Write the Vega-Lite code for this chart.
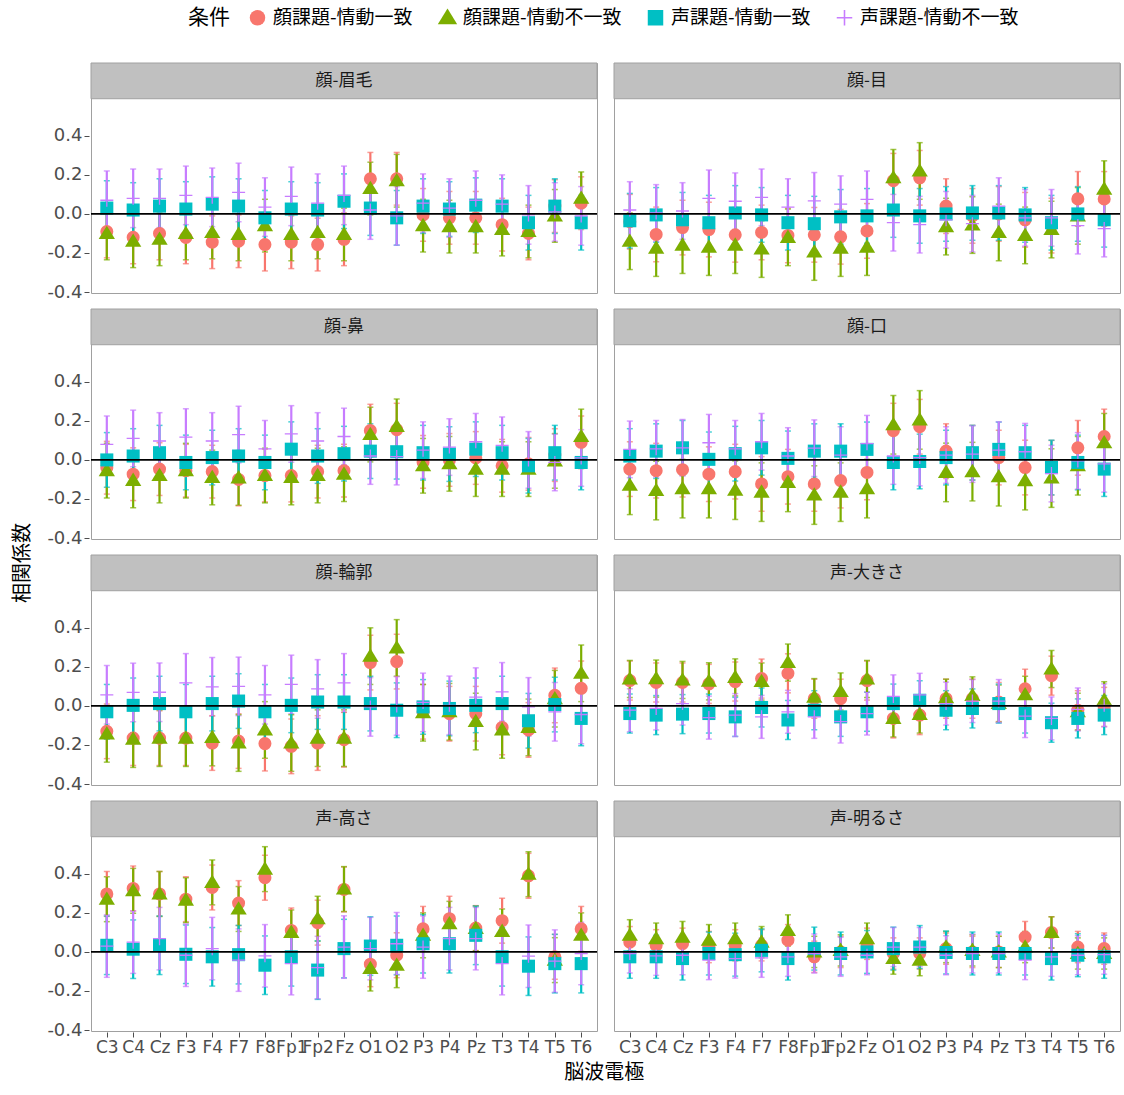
{
"$schema": "https://vega.github.io/schema/vega-lite/v6.json",
"background": "white",
"padding": {"left": 0, "top": 8, "right": 2, "bottom": 0},
"datasets": {
"grp": [
{"g":"1a","p":"顔-眉毛","c":"顔課題-情動一致","s":0.135},{"g":"1b","p":"顔-眉毛","c":"顔課題-情動不一致","s":0.135},{"g":"1c","p":"顔-眉毛","c":"声課題-情動一致","s":0.14},{"g":"1d","p":"顔-眉毛","c":"声課題-情動不一致","s":0.15},
{"g":"2a","p":"顔-目","c":"顔課題-情動一致","s":0.14},{"g":"2b","p":"顔-目","c":"顔課題-情動不一致","s":0.145},{"g":"2c","p":"顔-目","c":"声課題-情動一致","s":0.14},{"g":"2d","p":"顔-目","c":"声課題-情動不一致","s":0.145},
{"g":"3a","p":"顔-鼻","c":"顔課題-情動一致","s":0.135},{"g":"3b","p":"顔-鼻","c":"顔課題-情動不一致","s":0.14},{"g":"3c","p":"顔-鼻","c":"声課題-情動一致","s":0.14},{"g":"3d","p":"顔-鼻","c":"声課題-情動不一致","s":0.145},
{"g":"4a","p":"顔-口","c":"顔課題-情動一致","s":0.14},{"g":"4b","p":"顔-口","c":"顔課題-情動不一致","s":0.15},{"g":"4c","p":"顔-口","c":"声課題-情動一致","s":0.14},{"g":"4d","p":"顔-口","c":"声課題-情動不一致","s":0.145},
{"g":"5a","p":"顔-輪郭","c":"顔課題-情動一致","s":0.14},{"g":"5b","p":"顔-輪郭","c":"顔課題-情動不一致","s":0.145},{"g":"5c","p":"顔-輪郭","c":"声課題-情動一致","s":0.14},{"g":"5d","p":"顔-輪郭","c":"声課題-情動不一致","s":0.15},
{"g":"6a","p":"声-大きさ","c":"顔課題-情動一致","s":0.1},{"g":"6b","p":"声-大きさ","c":"顔課題-情動不一致","s":0.095},{"g":"6c","p":"声-大きさ","c":"声課題-情動一致","s":0.1},{"g":"6d","p":"声-大きさ","c":"声課題-情動不一致","s":0.11},
{"g":"7a","p":"声-高さ","c":"顔課題-情動一致","s":0.115},{"g":"7b","p":"声-高さ","c":"顔課題-情動不一致","s":0.115},{"g":"7c","p":"声-高さ","c":"声課題-情動一致","s":0.15},{"g":"7d","p":"声-高さ","c":"声課題-情動不一致","s":0.16},
{"g":"8a","p":"声-明るさ","c":"顔課題-情動一致","s":0.08},{"g":"8b","p":"声-明るさ","c":"顔課題-情動不一致","s":0.08},{"g":"8c","p":"声-明るさ","c":"声課題-情動一致","s":0.11},{"g":"8d","p":"声-明るさ","c":"声課題-情動不一致","s":0.1}
],
"main": [
{"g":"1a","e":"C3","v":-0.09},{"g":"1a","e":"C4","v":-0.12},{"g":"1a","e":"Cz","v":-0.1},{"g":"1a","e":"F3","v":-0.12},{"g":"1a","e":"F4","v":-0.145},{"g":"1a","e":"F7","v":-0.14},{"g":"1a","e":"F8","v":-0.157},{"g":"1a","e":"Fp1","v":-0.145},{"g":"1a","e":"Fp2","v":-0.157},{"g":"1a","e":"Fz","v":-0.13},{"g":"1a","e":"O1","v":0.18},{"g":"1a","e":"O2","v":0.18},{"g":"1a","e":"P3","v":-0.005},{"g":"1a","e":"P4","v":-0.02},{"g":"1a","e":"Pz","v":-0.02},{"g":"1a","e":"T3","v":-0.055},{"g":"1a","e":"T4","v":-0.1},{"g":"1a","e":"T5","v":0.04},{"g":"1a","e":"T6","v":0.055},
{"g":"1b","e":"C3","v":-0.1},{"g":"1b","e":"C4","v":-0.14},{"g":"1b","e":"Cz","v":-0.13},{"g":"1b","e":"F3","v":-0.1},{"g":"1b","e":"F4","v":-0.095},{"g":"1b","e":"F7","v":-0.105},{"g":"1b","e":"F8","v":-0.06},{"g":"1b","e":"Fp1","v":-0.105},{"g":"1b","e":"Fp2","v":-0.095},{"g":"1b","e":"Fz","v":-0.105},{"g":"1b","e":"O1","v":0.13},{"g":"1b","e":"O2","v":0.17},{"g":"1b","e":"P3","v":-0.06},{"g":"1b","e":"P4","v":-0.065},{"g":"1b","e":"Pz","v":-0.065},{"g":"1b","e":"T3","v":-0.08},{"g":"1b","e":"T4","v":-0.09},{"g":"1b","e":"T5","v":-0.01},{"g":"1b","e":"T6","v":0.08},
{"g":"1c","e":"C3","v":0.03},{"g":"1c","e":"C4","v":0.02},{"g":"1c","e":"Cz","v":0.04},{"g":"1c","e":"F3","v":0.025},{"g":"1c","e":"F4","v":0.05},{"g":"1c","e":"F7","v":0.04},{"g":"1c","e":"F8","v":-0.02},{"g":"1c","e":"Fp1","v":0.025},{"g":"1c","e":"Fp2","v":0.02},{"g":"1c","e":"Fz","v":0.065},{"g":"1c","e":"O1","v":0.03},{"g":"1c","e":"O2","v":-0.02},{"g":"1c","e":"P3","v":0.04},{"g":"1c","e":"P4","v":0.025},{"g":"1c","e":"Pz","v":0.045},{"g":"1c","e":"T3","v":0.04},{"g":"1c","e":"T4","v":-0.045},{"g":"1c","e":"T5","v":0.04},{"g":"1c","e":"T6","v":-0.045},
{"g":"1d","e":"C3","v":0.07},{"g":"1d","e":"C4","v":0.08},{"g":"1d","e":"Cz","v":0.08},{"g":"1d","e":"F3","v":0.095},{"g":"1d","e":"F4","v":0.085},{"g":"1d","e":"F7","v":0.11},{"g":"1d","e":"F8","v":0.035},{"g":"1d","e":"Fp1","v":0.09},{"g":"1d","e":"Fp2","v":0.055},{"g":"1d","e":"Fz","v":0.095},{"g":"1d","e":"O1","v":0.02},{"g":"1d","e":"O2","v":-0.01},{"g":"1d","e":"P3","v":0.055},{"g":"1d","e":"P4","v":0.03},{"g":"1d","e":"Pz","v":0.07},{"g":"1d","e":"T3","v":0.05},{"g":"1d","e":"T4","v":-0.005},{"g":"1d","e":"T5","v":0.01},{"g":"1d","e":"T6","v":-0.01},
{"g":"2a","e":"C3","v":-0.04},{"g":"2a","e":"C4","v":-0.105},{"g":"2a","e":"Cz","v":-0.07},{"g":"2a","e":"F3","v":-0.08},{"g":"2a","e":"F4","v":-0.107},{"g":"2a","e":"F7","v":-0.095},{"g":"2a","e":"F8","v":-0.11},{"g":"2a","e":"Fp1","v":-0.107},{"g":"2a","e":"Fp2","v":-0.117},{"g":"2a","e":"Fz","v":-0.087},{"g":"2a","e":"O1","v":0.17},{"g":"2a","e":"O2","v":0.185},{"g":"2a","e":"P3","v":0.04},{"g":"2a","e":"P4","v":-0.01},{"g":"2a","e":"Pz","v":0.0},{"g":"2a","e":"T3","v":-0.03},{"g":"2a","e":"T4","v":-0.06},{"g":"2a","e":"T5","v":0.077},{"g":"2a","e":"T6","v":0.077},
{"g":"2b","e":"C3","v":-0.14},{"g":"2b","e":"C4","v":-0.175},{"g":"2b","e":"Cz","v":-0.16},{"g":"2b","e":"F3","v":-0.17},{"g":"2b","e":"F4","v":-0.16},{"g":"2b","e":"F7","v":-0.18},{"g":"2b","e":"F8","v":-0.12},{"g":"2b","e":"Fp1","v":-0.195},{"g":"2b","e":"Fp2","v":-0.175},{"g":"2b","e":"Fz","v":-0.17},{"g":"2b","e":"O1","v":0.185},{"g":"2b","e":"O2","v":0.22},{"g":"2b","e":"P3","v":-0.065},{"g":"2b","e":"P4","v":-0.057},{"g":"2b","e":"Pz","v":-0.095},{"g":"2b","e":"T3","v":-0.11},{"g":"2b","e":"T4","v":-0.08},{"g":"2b","e":"T5","v":-0.01},{"g":"2b","e":"T6","v":0.127},
{"g":"2c","e":"C3","v":-0.035},{"g":"2c","e":"C4","v":-0.005},{"g":"2c","e":"Cz","v":-0.03},{"g":"2c","e":"F3","v":-0.045},{"g":"2c","e":"F4","v":0.005},{"g":"2c","e":"F7","v":-0.005},{"g":"2c","e":"F8","v":-0.045},{"g":"2c","e":"Fp1","v":-0.05},{"g":"2c","e":"Fp2","v":-0.015},{"g":"2c","e":"Fz","v":-0.01},{"g":"2c","e":"O1","v":0.02},{"g":"2c","e":"O2","v":-0.01},{"g":"2c","e":"P3","v":0.0},{"g":"2c","e":"P4","v":0.005},{"g":"2c","e":"Pz","v":0.005},{"g":"2c","e":"T3","v":-0.005},{"g":"2c","e":"T4","v":-0.045},{"g":"2c","e":"T5","v":0.0},{"g":"2c","e":"T6","v":-0.03},
{"g":"2d","e":"C3","v":0.02},{"g":"2d","e":"C4","v":0.005},{"g":"2d","e":"Cz","v":0.015},{"g":"2d","e":"F3","v":0.08},{"g":"2d","e":"F4","v":0.065},{"g":"2d","e":"F7","v":0.085},{"g":"2d","e":"F8","v":0.035},{"g":"2d","e":"Fp1","v":0.067},{"g":"2d","e":"Fp2","v":0.05},{"g":"2d","e":"Fz","v":0.075},{"g":"2d","e":"O1","v":-0.045},{"g":"2d","e":"O2","v":-0.055},{"g":"2d","e":"P3","v":-0.03},{"g":"2d","e":"P4","v":-0.05},{"g":"2d","e":"Pz","v":0.04},{"g":"2d","e":"T3","v":-0.02},{"g":"2d","e":"T4","v":-0.02},{"g":"2d","e":"T5","v":-0.06},{"g":"2d","e":"T6","v":-0.075},
{"g":"3a","e":"C3","v":-0.04},{"g":"3a","e":"C4","v":-0.073},{"g":"3a","e":"Cz","v":-0.047},{"g":"3a","e":"F3","v":-0.055},{"g":"3a","e":"F4","v":-0.06},{"g":"3a","e":"F7","v":-0.1},{"g":"3a","e":"F8","v":-0.08},{"g":"3a","e":"Fp1","v":-0.08},{"g":"3a","e":"Fp2","v":-0.06},{"g":"3a","e":"Fz","v":-0.055},{"g":"3a","e":"O1","v":0.15},{"g":"3a","e":"O2","v":0.155},{"g":"3a","e":"P3","v":-0.01},{"g":"3a","e":"P4","v":0.0},{"g":"3a","e":"Pz","v":0.01},{"g":"3a","e":"T3","v":-0.03},{"g":"3a","e":"T4","v":-0.02},{"g":"3a","e":"T5","v":0.025},{"g":"3a","e":"T6","v":0.09},
{"g":"3b","e":"C3","v":-0.055},{"g":"3b","e":"C4","v":-0.105},{"g":"3b","e":"Cz","v":-0.08},{"g":"3b","e":"F3","v":-0.055},{"g":"3b","e":"F4","v":-0.09},{"g":"3b","e":"F7","v":-0.092},{"g":"3b","e":"F8","v":-0.08},{"g":"3b","e":"Fp1","v":-0.09},{"g":"3b","e":"Fp2","v":-0.08},{"g":"3b","e":"Fz","v":-0.073},{"g":"3b","e":"O1","v":0.13},{"g":"3b","e":"O2","v":0.172},{"g":"3b","e":"P3","v":-0.03},{"g":"3b","e":"P4","v":-0.02},{"g":"3b","e":"Pz","v":-0.047},{"g":"3b","e":"T3","v":-0.047},{"g":"3b","e":"T4","v":-0.047},{"g":"3b","e":"T5","v":-0.005},{"g":"3b","e":"T6","v":0.12},
{"g":"3c","e":"C3","v":0.0},{"g":"3c","e":"C4","v":0.02},{"g":"3c","e":"Cz","v":0.037},{"g":"3c","e":"F3","v":-0.013},{"g":"3c","e":"F4","v":0.012},{"g":"3c","e":"F7","v":0.02},{"g":"3c","e":"F8","v":-0.013},{"g":"3c","e":"Fp1","v":0.055},{"g":"3c","e":"Fp2","v":0.02},{"g":"3c","e":"Fz","v":0.032},{"g":"3c","e":"O1","v":0.045},{"g":"3c","e":"O2","v":0.042},{"g":"3c","e":"P3","v":0.037},{"g":"3c","e":"P4","v":0.03},{"g":"3c","e":"Pz","v":0.055},{"g":"3c","e":"T3","v":0.037},{"g":"3c","e":"T4","v":-0.03},{"g":"3c","e":"T5","v":0.037},{"g":"3c","e":"T6","v":-0.013},
{"g":"3d","e":"C3","v":0.08},{"g":"3d","e":"C4","v":0.11},{"g":"3d","e":"Cz","v":0.097},{"g":"3d","e":"F3","v":0.117},{"g":"3d","e":"F4","v":0.097},{"g":"3d","e":"F7","v":0.13},{"g":"3d","e":"F8","v":0.057},{"g":"3d","e":"Fp1","v":0.133},{"g":"3d","e":"Fp2","v":0.097},{"g":"3d","e":"Fz","v":0.12},{"g":"3d","e":"O1","v":0.02},{"g":"3d","e":"O2","v":0.017},{"g":"3d","e":"P3","v":0.05},{"g":"3d","e":"P4","v":0.066},{"g":"3d","e":"Pz","v":0.093},{"g":"3d","e":"T3","v":0.075},{"g":"3d","e":"T4","v":0.0},{"g":"3d","e":"T5","v":-0.013},{"g":"3d","e":"T6","v":0.01},
{"g":"4a","e":"C3","v":-0.047},{"g":"4a","e":"C4","v":-0.055},{"g":"4a","e":"Cz","v":-0.05},{"g":"4a","e":"F3","v":-0.073},{"g":"4a","e":"F4","v":-0.06},{"g":"4a","e":"F7","v":-0.123},{"g":"4a","e":"F8","v":-0.086},{"g":"4a","e":"Fp1","v":-0.123},{"g":"4a","e":"Fp2","v":-0.106},{"g":"4a","e":"Fz","v":-0.064},{"g":"4a","e":"O1","v":0.15},{"g":"4a","e":"O2","v":0.17},{"g":"4a","e":"P3","v":0.045},{"g":"4a","e":"P4","v":0.037},{"g":"4a","e":"Pz","v":0.012},{"g":"4a","e":"T3","v":-0.039},{"g":"4a","e":"T4","v":-0.04},{"g":"4a","e":"T5","v":0.062},{"g":"4a","e":"T6","v":0.12},
{"g":"4b","e":"C3","v":-0.13},{"g":"4b","e":"C4","v":-0.157},{"g":"4b","e":"Cz","v":-0.147},{"g":"4b","e":"F3","v":-0.147},{"g":"4b","e":"F4","v":-0.155},{"g":"4b","e":"F7","v":-0.165},{"g":"4b","e":"F8","v":-0.115},{"g":"4b","e":"Fp1","v":-0.18},{"g":"4b","e":"Fp2","v":-0.165},{"g":"4b","e":"Fz","v":-0.147},{"g":"4b","e":"O1","v":0.18},{"g":"4b","e":"O2","v":0.205},{"g":"4b","e":"P3","v":-0.064},{"g":"4b","e":"P4","v":-0.06},{"g":"4b","e":"Pz","v":-0.086},{"g":"4b","e":"T3","v":-0.106},{"g":"4b","e":"T4","v":-0.093},{"g":"4b","e":"T5","v":-0.03},{"g":"4b","e":"T6","v":0.088},
{"g":"4c","e":"C3","v":0.02},{"g":"4c","e":"C4","v":0.045},{"g":"4c","e":"Cz","v":0.062},{"g":"4c","e":"F3","v":0.003},{"g":"4c","e":"F4","v":0.032},{"g":"4c","e":"F7","v":0.062},{"g":"4c","e":"F8","v":0.008},{"g":"4c","e":"Fp1","v":0.045},{"g":"4c","e":"Fp2","v":0.045},{"g":"4c","e":"Fz","v":0.054},{"g":"4c","e":"O1","v":-0.013},{"g":"4c","e":"O2","v":-0.008},{"g":"4c","e":"P3","v":0.012},{"g":"4c","e":"P4","v":0.037},{"g":"4c","e":"Pz","v":0.054},{"g":"4c","e":"T3","v":0.037},{"g":"4c","e":"T4","v":-0.039},{"g":"4c","e":"T5","v":-0.013},{"g":"4c","e":"T6","v":-0.047},
{"g":"4d","e":"C3","v":0.054},{"g":"4d","e":"C4","v":0.057},{"g":"4d","e":"Cz","v":0.062},{"g":"4d","e":"F3","v":0.088},{"g":"4d","e":"F4","v":0.057},{"g":"4d","e":"F7","v":0.093},{"g":"4d","e":"F8","v":0.02},{"g":"4d","e":"Fp1","v":0.06},{"g":"4d","e":"Fp2","v":0.025},{"g":"4d","e":"Fz","v":0.083},{"g":"4d","e":"O1","v":0.02},{"g":"4d","e":"O2","v":0.012},{"g":"4d","e":"P3","v":0.025},{"g":"4d","e":"P4","v":0.03},{"g":"4d","e":"Pz","v":0.05},{"g":"4d","e":"T3","v":0.042},{"g":"4d","e":"T4","v":-0.07},{"g":"4d","e":"T5","v":-0.005},{"g":"4d","e":"T6","v":-0.02},
{"g":"5a","e":"C3","v":-0.13},{"g":"5a","e":"C4","v":-0.165},{"g":"5a","e":"Cz","v":-0.165},{"g":"5a","e":"F3","v":-0.165},{"g":"5a","e":"F4","v":-0.19},{"g":"5a","e":"F7","v":-0.18},{"g":"5a","e":"F8","v":-0.193},{"g":"5a","e":"Fp1","v":-0.207},{"g":"5a","e":"Fp2","v":-0.19},{"g":"5a","e":"Fz","v":-0.173},{"g":"5a","e":"O1","v":0.222},{"g":"5a","e":"O2","v":0.227},{"g":"5a","e":"P3","v":-0.03},{"g":"5a","e":"P4","v":-0.04},{"g":"5a","e":"Pz","v":-0.04},{"g":"5a","e":"T3","v":-0.11},{"g":"5a","e":"T4","v":-0.123},{"g":"5a","e":"T5","v":0.054},{"g":"5a","e":"T6","v":0.09},
{"g":"5b","e":"C3","v":-0.143},{"g":"5b","e":"C4","v":-0.17},{"g":"5b","e":"Cz","v":-0.165},{"g":"5b","e":"F3","v":-0.165},{"g":"5b","e":"F4","v":-0.162},{"g":"5b","e":"F7","v":-0.19},{"g":"5b","e":"F8","v":-0.123},{"g":"5b","e":"Fp1","v":-0.19},{"g":"5b","e":"Fp2","v":-0.165},{"g":"5b","e":"Fz","v":-0.165},{"g":"5b","e":"O1","v":0.255},{"g":"5b","e":"O2","v":0.297},{"g":"5b","e":"P3","v":-0.035},{"g":"5b","e":"P4","v":-0.03},{"g":"5b","e":"Pz","v":-0.08},{"g":"5b","e":"T3","v":-0.123},{"g":"5b","e":"T4","v":-0.11},{"g":"5b","e":"T5","v":0.037},{"g":"5b","e":"T6","v":0.167},
{"g":"5c","e":"C3","v":-0.03},{"g":"5c","e":"C4","v":0.003},{"g":"5c","e":"Cz","v":0.012},{"g":"5c","e":"F3","v":-0.03},{"g":"5c","e":"F4","v":0.012},{"g":"5c","e":"F7","v":0.025},{"g":"5c","e":"F8","v":-0.03},{"g":"5c","e":"Fp1","v":0.003},{"g":"5c","e":"Fp2","v":0.02},{"g":"5c","e":"Fz","v":0.02},{"g":"5c","e":"O1","v":0.012},{"g":"5c","e":"O2","v":-0.022},{"g":"5c","e":"P3","v":-0.005},{"g":"5c","e":"P4","v":-0.013},{"g":"5c","e":"Pz","v":0.003},{"g":"5c","e":"T3","v":0.012},{"g":"5c","e":"T4","v":-0.076},{"g":"5c","e":"T5","v":0.007},{"g":"5c","e":"T6","v":-0.064},
{"g":"5d","e":"C3","v":0.057},{"g":"5d","e":"C4","v":0.069},{"g":"5d","e":"Cz","v":0.07},{"g":"5d","e":"F3","v":0.118},{"g":"5d","e":"F4","v":0.098},{"g":"5d","e":"F7","v":0.1},{"g":"5d","e":"F8","v":0.057},{"g":"5d","e":"Fp1","v":0.11},{"g":"5d","e":"Fp2","v":0.087},{"g":"5d","e":"Fz","v":0.118},{"g":"5d","e":"O1","v":-0.005},{"g":"5d","e":"O2","v":0.0},{"g":"5d","e":"P3","v":0.018},{"g":"5d","e":"P4","v":0.003},{"g":"5d","e":"Pz","v":0.045},{"g":"5d","e":"T3","v":0.072},{"g":"5d","e":"T4","v":-0.005},{"g":"5d","e":"T5","v":-0.03},{"g":"5d","e":"T6","v":-0.044},
{"g":"6a","e":"C3","v":0.13},{"g":"6a","e":"C4","v":0.12},{"g":"6a","e":"Cz","v":0.12},{"g":"6a","e":"F3","v":0.113},{"g":"6a","e":"F4","v":0.125},{"g":"6a","e":"F7","v":0.14},{"g":"6a","e":"F8","v":0.167},{"g":"6a","e":"Fp1","v":0.037},{"g":"6a","e":"Fp2","v":0.037},{"g":"6a","e":"Fz","v":0.13},{"g":"6a","e":"O1","v":-0.064},{"g":"6a","e":"O2","v":-0.047},{"g":"6a","e":"P3","v":0.037},{"g":"6a","e":"P4","v":0.037},{"g":"6a","e":"Pz","v":0.02},{"g":"6a","e":"T3","v":0.088},{"g":"6a","e":"T4","v":0.155},{"g":"6a","e":"T5","v":-0.022},{"g":"6a","e":"T6","v":-0.005},
{"g":"6b","e":"C3","v":0.138},{"g":"6b","e":"C4","v":0.14},{"g":"6b","e":"Cz","v":0.133},{"g":"6b","e":"F3","v":0.126},{"g":"6b","e":"F4","v":0.146},{"g":"6b","e":"F7","v":0.125},{"g":"6b","e":"F8","v":0.222},{"g":"6b","e":"Fp1","v":0.045},{"g":"6b","e":"Fp2","v":0.074},{"g":"6b","e":"Fz","v":0.138},{"g":"6b","e":"O1","v":-0.064},{"g":"6b","e":"O2","v":-0.044},{"g":"6b","e":"P3","v":0.042},{"g":"6b","e":"P4","v":0.054},{"g":"6b","e":"Pz","v":0.012},{"g":"6b","e":"T3","v":0.057},{"g":"6b","e":"T4","v":0.189},{"g":"6b","e":"T5","v":-0.03},{"g":"6b","e":"T6","v":0.029},
{"g":"6c","e":"C3","v":-0.039},{"g":"6c","e":"C4","v":-0.047},{"g":"6c","e":"Cz","v":-0.042},{"g":"6c","e":"F3","v":-0.039},{"g":"6c","e":"F4","v":-0.056},{"g":"6c","e":"F7","v":-0.008},{"g":"6c","e":"F8","v":-0.072},{"g":"6c","e":"Fp1","v":-0.022},{"g":"6c","e":"Fp2","v":-0.056},{"g":"6c","e":"Fz","v":-0.03},{"g":"6c","e":"O1","v":0.012},{"g":"6c","e":"O2","v":0.029},{"g":"6c","e":"P3","v":-0.022},{"g":"6c","e":"P4","v":-0.013},{"g":"6c","e":"Pz","v":0.012},{"g":"6c","e":"T3","v":-0.039},{"g":"6c","e":"T4","v":-0.086},{"g":"6c","e":"T5","v":-0.064},{"g":"6c","e":"T6","v":-0.047},
{"g":"6d","e":"C3","v":-0.022},{"g":"6d","e":"C4","v":-0.013},{"g":"6d","e":"Cz","v":0.012},{"g":"6d","e":"F3","v":-0.06},{"g":"6d","e":"F4","v":-0.047},{"g":"6d","e":"F7","v":-0.056},{"g":"6d","e":"F8","v":-0.03},{"g":"6d","e":"Fp1","v":-0.056},{"g":"6d","e":"Fp2","v":-0.08},{"g":"6d","e":"Fz","v":-0.039},{"g":"6d","e":"O1","v":0.049},{"g":"6d","e":"O2","v":0.057},{"g":"6d","e":"P3","v":0.012},{"g":"6d","e":"P4","v":0.025},{"g":"6d","e":"Pz","v":0.025},{"g":"6d","e":"T3","v":-0.052},{"g":"6d","e":"T4","v":-0.064},{"g":"6d","e":"T5","v":-0.018},{"g":"6d","e":"T6","v":0.003},
{"g":"7a","e":"C3","v":0.297},{"g":"7a","e":"C4","v":0.325},{"g":"7a","e":"Cz","v":0.297},{"g":"7a","e":"F3","v":0.27},{"g":"7a","e":"F4","v":0.33},{"g":"7a","e":"F7","v":0.25},{"g":"7a","e":"F8","v":0.38},{"g":"7a","e":"Fp1","v":0.11},{"g":"7a","e":"Fp2","v":0.15},{"g":"7a","e":"Fz","v":0.32},{"g":"7a","e":"O1","v":-0.063},{"g":"7a","e":"O2","v":-0.017},{"g":"7a","e":"P3","v":0.118},{"g":"7a","e":"P4","v":0.17},{"g":"7a","e":"Pz","v":0.122},{"g":"7a","e":"T3","v":0.16},{"g":"7a","e":"T4","v":0.39},{"g":"7a","e":"T5","v":-0.025},{"g":"7a","e":"T6","v":0.118},
{"g":"7b","e":"C3","v":0.27},{"g":"7b","e":"C4","v":0.313},{"g":"7b","e":"Cz","v":0.297},{"g":"7b","e":"F3","v":0.265},{"g":"7b","e":"F4","v":0.356},{"g":"7b","e":"F7","v":0.22},{"g":"7b","e":"F8","v":0.424},{"g":"7b","e":"Fp1","v":0.1},{"g":"7b","e":"Fp2","v":0.17},{"g":"7b","e":"Fz","v":0.322},{"g":"7b","e":"O1","v":-0.085},{"g":"7b","e":"O2","v":-0.068},{"g":"7b","e":"P3","v":0.085},{"g":"7b","e":"P4","v":0.144},{"g":"7b","e":"Pz","v":0.12},{"g":"7b","e":"T3","v":0.105},{"g":"7b","e":"T4","v":0.398},{"g":"7b","e":"T5","v":-0.042},{"g":"7b","e":"T6","v":0.085},
{"g":"7c","e":"C3","v":0.034},{"g":"7c","e":"C4","v":0.014},{"g":"7c","e":"Cz","v":0.034},{"g":"7c","e":"F3","v":-0.012},{"g":"7c","e":"F4","v":-0.025},{"g":"7c","e":"F7","v":-0.014},{"g":"7c","e":"F8","v":-0.068},{"g":"7c","e":"Fp1","v":-0.025},{"g":"7c","e":"Fp2","v":-0.093},{"g":"7c","e":"Fz","v":0.017},{"g":"7c","e":"O1","v":0.03},{"g":"7c","e":"O2","v":0.034},{"g":"7c","e":"P3","v":0.042},{"g":"7c","e":"P4","v":0.042},{"g":"7c","e":"Pz","v":0.085},{"g":"7c","e":"T3","v":-0.025},{"g":"7c","e":"T4","v":-0.073},{"g":"7c","e":"T5","v":-0.06},{"g":"7c","e":"T6","v":-0.06},
{"g":"7d","e":"C3","v":0.03},{"g":"7d","e":"C4","v":0.05},{"g":"7d","e":"Cz","v":0.068},{"g":"7d","e":"F3","v":-0.017},{"g":"7d","e":"F4","v":0.017},{"g":"7d","e":"F7","v":-0.042},{"g":"7d","e":"F8","v":-0.02},{"g":"7d","e":"Fp1","v":-0.06},{"g":"7d","e":"Fp2","v":-0.08},{"g":"7d","e":"Fz","v":0.025},{"g":"7d","e":"O1","v":0.017},{"g":"7d","e":"O2","v":0.042},{"g":"7d","e":"P3","v":0.025},{"g":"7d","e":"P4","v":0.068},{"g":"7d","e":"Pz","v":0.068},{"g":"7d","e":"T3","v":-0.06},{"g":"7d","e":"T4","v":-0.022},{"g":"7d","e":"T5","v":-0.047},{"g":"7d","e":"T6","v":-0.008},
{"g":"8a","e":"C3","v":0.05},{"g":"8a","e":"C4","v":0.034},{"g":"8a","e":"Cz","v":0.042},{"g":"8a","e":"F3","v":0.025},{"g":"8a","e":"F4","v":0.034},{"g":"8a","e":"F7","v":0.034},{"g":"8a","e":"F8","v":0.06},{"g":"8a","e":"Fp1","v":-0.025},{"g":"8a","e":"Fp2","v":0.0},{"g":"8a","e":"Fz","v":0.042},{"g":"8a","e":"O1","v":-0.008},{"g":"8a","e":"O2","v":-0.008},{"g":"8a","e":"P3","v":0.017},{"g":"8a","e":"P4","v":0.0},{"g":"8a","e":"Pz","v":0.0},{"g":"8a","e":"T3","v":0.076},{"g":"8a","e":"T4","v":0.1},{"g":"8a","e":"T5","v":0.025},{"g":"8a","e":"T6","v":0.017},
{"g":"8b","e":"C3","v":0.085},{"g":"8b","e":"C4","v":0.068},{"g":"8b","e":"Cz","v":0.076},{"g":"8b","e":"F3","v":0.06},{"g":"8b","e":"F4","v":0.068},{"g":"8b","e":"F7","v":0.05},{"g":"8b","e":"F8","v":0.11},{"g":"8b","e":"Fp1","v":0.0},{"g":"8b","e":"Fp2","v":0.008},{"g":"8b","e":"Fz","v":0.068},{"g":"8b","e":"O1","v":-0.034},{"g":"8b","e":"O2","v":-0.042},{"g":"8b","e":"P3","v":0.025},{"g":"8b","e":"P4","v":0.008},{"g":"8b","e":"Pz","v":0.0},{"g":"8b","e":"T3","v":0.025},{"g":"8b","e":"T4","v":0.1},{"g":"8b","e":"T5","v":-0.008},{"g":"8b","e":"T6","v":-0.008},
{"g":"8c","e":"C3","v":-0.025},{"g":"8c","e":"C4","v":-0.025},{"g":"8c","e":"Cz","v":-0.034},{"g":"8c","e":"F3","v":-0.008},{"g":"8c","e":"F4","v":-0.014},{"g":"8c","e":"F7","v":0.008},{"g":"8c","e":"F8","v":-0.034},{"g":"8c","e":"Fp1","v":0.017},{"g":"8c","e":"Fp2","v":-0.008},{"g":"8c","e":"Fz","v":0.0},{"g":"8c","e":"O1","v":0.017},{"g":"8c","e":"O2","v":0.025},{"g":"8c","e":"P3","v":-0.003},{"g":"8c","e":"P4","v":-0.008},{"g":"8c","e":"Pz","v":-0.008},{"g":"8c","e":"T3","v":-0.008},{"g":"8c","e":"T4","v":-0.034},{"g":"8c","e":"T5","v":-0.017},{"g":"8c","e":"T6","v":-0.025},
{"g":"8d","e":"C3","v":-0.008},{"g":"8d","e":"C4","v":-0.02},{"g":"8d","e":"Cz","v":-0.017},{"g":"8d","e":"F3","v":-0.042},{"g":"8d","e":"F4","v":-0.034},{"g":"8d","e":"F7","v":-0.03},{"g":"8d","e":"F8","v":-0.025},{"g":"8d","e":"Fp1","v":-0.008},{"g":"8d","e":"Fp2","v":-0.025},{"g":"8d","e":"Fz","v":-0.017},{"g":"8d","e":"O1","v":0.025},{"g":"8d","e":"O2","v":0.025},{"g":"8d","e":"P3","v":-0.017},{"g":"8d","e":"P4","v":-0.008},{"g":"8d","e":"Pz","v":-0.008},{"g":"8d","e":"T3","v":-0.042},{"g":"8d","e":"T4","v":-0.025},{"g":"8d","e":"T5","v":-0.017},{"g":"8d","e":"T6","v":-0.014}
]
},
"hconcat": [
{
"width": 46, "height": 1000,
"view": {"stroke": null},
"data": {"values": [{"t": "相関係数"}]},
"mark": {"type": "text", "angle": 270, "fontSize": 20, "color": "black", "baseline": "middle"},
"encoding": {"text": {"field": "t", "type": "nominal"}}
},
{
"data": {"name": "main"},
"transform": [{"lookup": "g", "from": {"data": {"name": "grp"}, "key": "g", "fields": ["p", "c", "s"]}}],
"facet": {"field": "p", "type": "nominal", "sort": ["顔-眉毛","顔-目","顔-鼻","顔-口","顔-輪郭","声-大きさ","声-高さ","声-明るさ"], "header": {"title": null, "labels": false, "labelExpr": "''", "labelFontSize": 0, "labelPadding": 0}},
"columns": 2,
"spacing": {"row": 14, "column": 13},
"title": {"text": "脳波電極", "orient": "bottom", "anchor": "middle", "fontSize": 20, "fontWeight": "normal", "offset": 8, "dx": 20, "color": "black"},
"spec": {
"width": 506, "height": 230,
"layer": [
{
"mark": {"type": "errorbar", "thickness": 2.2, "ticks": {"size": 6, "thickness": 1.5}},
"encoding": {
"x": {"field": "e", "type": "nominal", "scale": {"type": "point", "padding": 0.6, "domain": ["C3","C4","Cz","F3","F4","F7","F8","Fp1","Fp2","Fz","O1","O2","P3","P4","Pz","T3","T4","T5","T6"]}, "axis": {"title": null, "labelAngle": 0, "labelOverlap": false, "labelFontSize": 17}},
"y": {"field": "v", "type": "quantitative", "scale": {"domain": [-0.405, 0.773], "nice": false, "zero": false}, "axis": {"title": null, "values": [-0.4, -0.2, 0, 0.2, 0.4], "format": ".1f"}},
"yError": {"field": "s"},
"color": {"field": "c", "type": "nominal", "title": "条件", "scale": {"domain": ["顔課題-情動一致","顔課題-情動不一致","声課題-情動一致","声課題-情動不一致"], "range": ["#F8766D","#7CAE00","#00BFC4","#C77CFF"]}}
}
},
{
"mark": {"type": "point", "filled": true, "size": 170, "opacity": 1},
"encoding": {
"x": {"field": "e", "type": "nominal"},
"y": {"field": "v", "type": "quantitative"},
"color": {"field": "c", "type": "nominal", "title": "条件", "legend": {"orient": "none", "legendX": 188, "legendY": -55, "direction": "horizontal", "titleOrient": "left"}},
"shape": {"field": "c", "type": "nominal", "title": "条件", "scale": {"domain": ["顔課題-情動一致","顔課題-情動不一致","声課題-情動一致","声課題-情動不一致"], "range": ["circle","M0,-1.2L1.25,0.85L-1.25,0.85Z","square","M-1,-0.1H-0.1V-1H0.1V-0.1H1V0.1H0.1V1H-0.1V0.1H-1Z"]}, "legend": {"orient": "none", "legendX": 188, "legendY": -55, "direction": "horizontal", "titleOrient": "left"}}
}
},
{
"transform": [{"aggregate": [{"op": "count", "as": "n"}], "groupby": ["p"]}],
"mark": {"type": "rule", "color": "black", "strokeWidth": 1.8},
"encoding": {"y": {"datum": 0}}
},
{
"transform": [{"aggregate": [{"op": "count", "as": "n"}], "groupby": ["p"]}],
"mark": {"type": "rect", "fill": "#C0C0C0", "stroke": "#A0A0A0", "strokeWidth": 1},
"encoding": {"x": {"value": 0}, "x2": {"value": "width"}, "y": {"datum": 0.59}, "y2": {"datum": 0.773}}
},
{
"transform": [{"aggregate": [{"op": "count", "as": "n"}], "groupby": ["p"]}],
"mark": {"type": "text", "fontSize": 17, "color": "#1A1A1A", "baseline": "middle"},
"encoding": {"x": {"datum": "Fz"}, "y": {"datum": 0.682}, "text": {"field": "p", "type": "nominal"}}
}
]
}
}
],
"spacing": 0,
"config": {
"font": "Noto Sans CJK JP",
"view": {"stroke": "#A0A0A0", "strokeWidth": 1},
"header": {"labels": false, "title": null, "labelFontSize": 0, "labelPadding": 0},
"axis": {"labelFont": "DejaVu Sans", "labelFontSize": 18, "labelColor": "#4D4D4D", "tickColor": "#4D4D4D", "tickSize": 5, "domain": false, "grid": false, "labelPadding": 2},
"legend": {"titleFontSize": 21, "titleFontWeight": "normal", "titleColor": "black", "titlePadding": 18, "labelFontSize": 19, "labelColor": "black", "symbolSize": 240, "symbolType": "circle", "columnPadding": 24, "labelOffset": 6, "symbolStrokeWidth": 0, "symbolOpacity": 1},
"locale": {"number": {"decimal": ".", "thousands": ",", "grouping": [3], "currency": ["$", ""], "minus": "-"}}
}
}
